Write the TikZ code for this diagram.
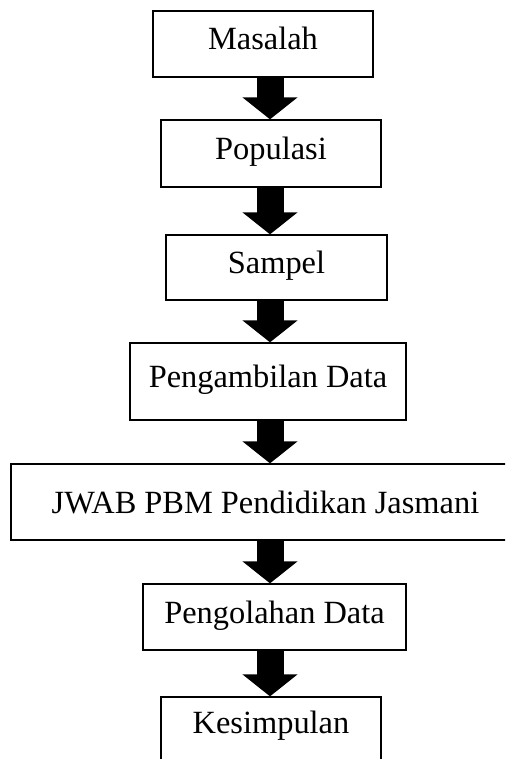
\documentclass[tikz,border=0pt]{standalone}
\usepackage{fontspec}
\setmainfont{Liberation Serif}
\usetikzlibrary{arrows.meta}
\tikzset{
  stepbox/.style={draw, line width=0.65pt, inner sep=0pt, text height=11pt, text depth=5pt,
    font=\fontsize{16.2}{19}\selectfont},
  blockarrow/.style={line width=13.5pt, -{Triangle[length=11pt,width=27pt]}}
}

\begin{document}
\begin{tikzpicture}[x=0.5pt,y=-0.5pt]
\clip (0,0) rectangle (505,759);
\coordinate (ax) at (270,0);
% langkah-langkah penelitian
\node[stepbox, minimum width=110pt, minimum height=33pt] (masalah) at (263,44) {Masalah};
\node[stepbox, minimum width=110pt, minimum height=33.5pt] (populasi) at (271,153.5) {Populasi};
\node[stepbox, minimum width=110.5pt, minimum height=32.5pt] (sampel) at (276.5,267.5) {Sampel};
\node[stepbox, minimum width=138pt, minimum height=38.5pt] (ambil) at (268,381.5) {Pengambilan Data};
\node[stepbox, minimum width=254.5pt, minimum height=38pt, text depth=0pt] (jwab) at (265.5,502) {JWAB PBM Pendidikan Jasmani};
\node[stepbox, minimum width=131.5pt, minimum height=33pt] (olah) at (274.5,617) {Pengolahan Data};
\node[stepbox, minimum width=110pt, minimum height=40pt, text depth=15pt] (simpul) at (271,737) {Kesimpulan};
% panah
\draw[blockarrow] (masalah.south -| ax) -- (populasi.north -| ax);
\draw[blockarrow] (populasi.south -| ax) -- (sampel.north -| ax);
\draw[blockarrow] (sampel.south -| ax) -- (ambil.north -| ax);
\draw[blockarrow] (ambil.south -| ax) -- (jwab.north -| ax);
\draw[blockarrow] (jwab.south -| ax) -- (olah.north -| ax);
\draw[blockarrow] (olah.south -| ax) -- (simpul.north -| ax);
\end{tikzpicture}
\end{document}
